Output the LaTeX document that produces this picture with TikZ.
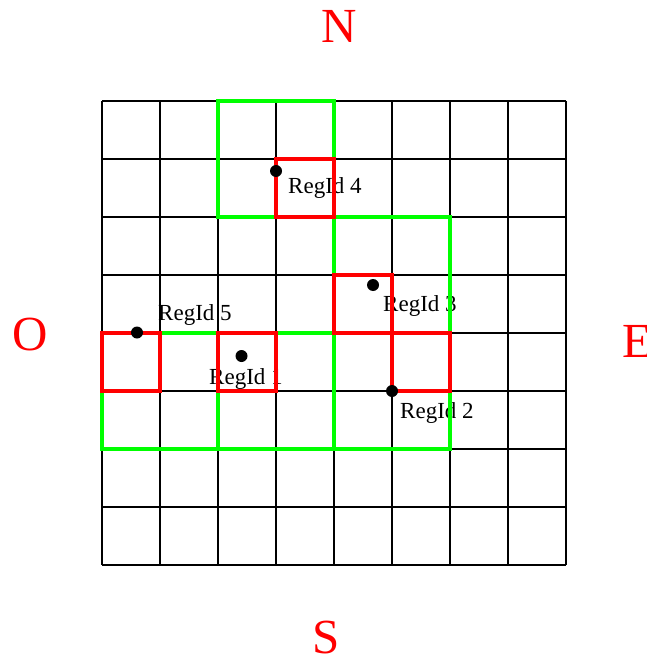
\documentclass[tikz,border=0pt]{standalone}
\usepackage{fontspec}
\setmainfont{Liberation Serif}
\begin{document}
\begin{tikzpicture}[x=1pt,y=-1pt,
  gridline/.style={black,line width=2pt},
  greenbox/.style={draw=green,line width=4pt},
  redbox/.style={draw=red,line width=4pt},
  dir/.style={text=red,font=\fontsize{49}{49}\selectfont,inner sep=0pt,anchor=base},
  lab/.style={font=\fontsize{23}{23}\selectfont,inner sep=0pt,anchor=base west},
  pt/.style={circle,fill=black,inner sep=0pt,minimum size=12pt}]
\useasboundingbox (0,0) rectangle (647,658);
% labels (under lines)
\node[lab] (l4) at (288,193) {RegId 4};
\node[lab] (l3) at (383,311) {RegId 3};
\node[lab] (l2) at (400,418) {RegId 2};
\node[lab] (l1) at (209,384) {RegId 1};
\node[lab] (l5) at (158,320) {RegId 5};
% grid
\foreach \i in {0,...,8}{
  \draw[gridline] (102+58*\i,101) -- (102+58*\i,565);
  \draw[gridline] (102,101+58*\i) -- (566,101+58*\i);
}
% green regions
\draw[greenbox] (218,101) rectangle (334,217);
\draw[greenbox] (334,217) rectangle (450,333);
\draw[greenbox] (334,333) rectangle (450,449);
\draw[greenbox] (102,333) rectangle (218,449);
\draw[greenbox] (218,333) rectangle (334,449);
% red cells
\draw[redbox] (276,159) rectangle (334,217);
\draw[redbox] (334,275) rectangle (392,333);
\draw[redbox] (392,333) rectangle (450,391);
\draw[redbox] (218,333) rectangle (276,391);
\draw[redbox] (102,333) rectangle (160,391);
% points
\node[pt] (p4) at (276,171) {};
\node[pt] (p3) at (373,285) {};
\node[pt] (p2) at (392,391) {};
\node[pt] (p1) at (241.5,356) {};
\node[pt] (p5) at (137,332.5) {};
% directions
\node[dir] (N) at (339,43) {N};
\node[dir] (S) at (326,653) {S};
\node[dir] (O) at (30,350) {O};
\node[dir,anchor=base west] (E) at (622,357) {E};
\end{tikzpicture}
\end{document}
